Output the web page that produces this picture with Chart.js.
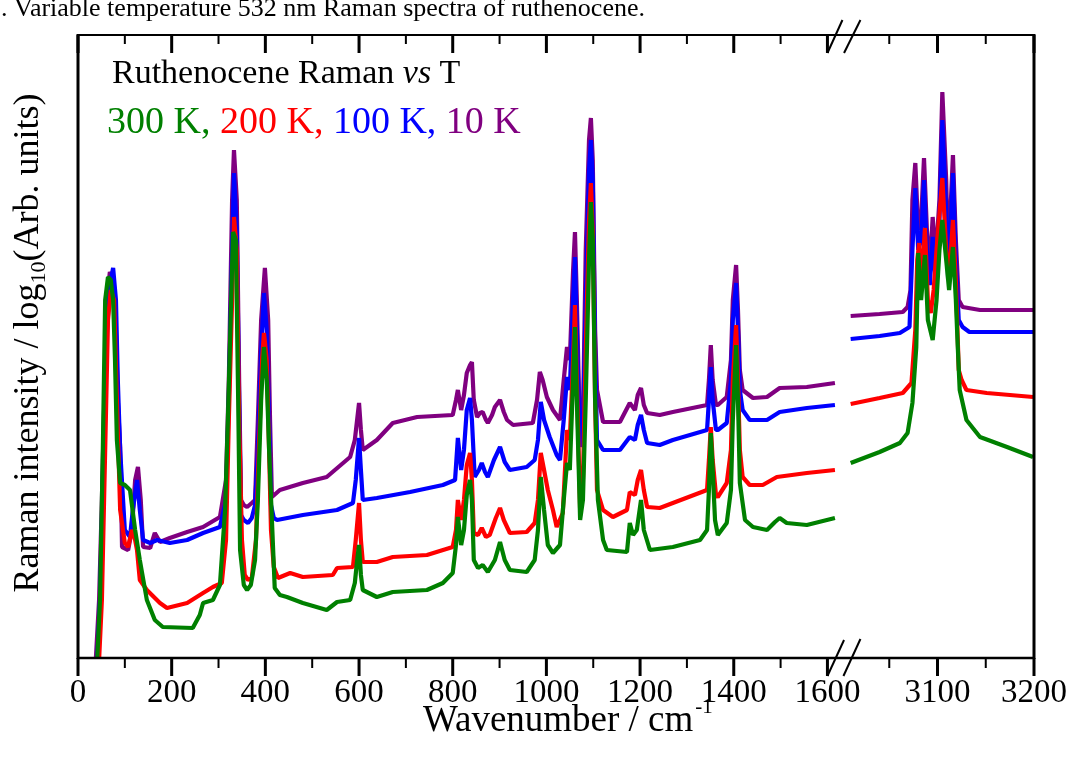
<!DOCTYPE html>
<html>
<head>
<meta charset="utf-8">
<title>Ruthenocene Raman vs T</title>
<script src="https://cdn.jsdelivr.net/npm/chart.js@4.4.1/dist/chart.umd.min.js"></script>
<style>
  html, body { margin: 0; padding: 0; background: #fff; }
  #wrap { position: relative; width: 1072px; height: 761px; }
</style>
</head>
<body>
<div id="wrap"><canvas id="ramanChart" width="1072" height="761"></canvas></div>
<script>
// wavenumber (cm-1) and log10 intensity (arb. units)
const wn300 = [41,47,53,58,64,70,75,79,83,90,
  100,111,122,132,147,164,181,245,260,267,
  288,303,314,320,327,331,337,342,346,354,
  361,369,378,384,391,397,403,408,414,420,
  431,446,480,531,553,581,591,596,600,604,
  608,638,672,745,779,800,807,811,818,824,
  830,837,841,845,854,864,875,890,901,911,
  922,958,975,982,988,995,1003,1014,1029,1037,
  1044,1050,1057,1061,1065,1072,1078,1084,1091,1095,
  1099,1104,1110,1121,1129,1172,1178,1185,1193,1202,
  1208,1221,1270,1328,1343,1347,1351,1355,1360,1366,
  1385,1394,1398,1405,1409,1413,1424,1441,1471,1488,
  1498,1513,1556,1616,
  3010,3040,3061,3069,3074,3078,3080,3083,3087,3090,
  3095,3099,3102,3105,3109,3112,3116,3119,3121,3123,
  3130,3144,3172,3199];
const int300 = [-0.02,0.58,2.08,3.58,3.81,3.78,3.58,2.98,2.18,1.75,
  1.73,1.68,1.28,0.98,0.58,0.38,0.31,0.30,0.43,0.55,
  0.58,0.73,1.48,2.38,3.58,4.26,4.18,2.58,1.08,0.73,
  0.68,0.73,0.98,1.58,2.58,3.11,2.78,2.08,1.38,0.70,
  0.63,0.61,0.55,0.48,0.56,0.58,0.75,0.98,1.13,0.83,
  0.68,0.61,0.66,0.68,0.75,0.85,1.13,1.41,1.13,1.28,
  1.63,1.78,1.58,0.98,0.90,0.93,0.86,0.98,1.16,0.98,
  0.88,0.86,0.98,1.28,1.81,1.48,1.13,1.05,1.13,1.58,
  1.95,1.88,2.78,3.31,2.58,1.38,1.58,2.58,3.98,4.56,
  4.18,2.58,1.58,1.18,1.08,1.06,1.35,1.23,1.28,1.58,
  1.28,1.08,1.11,1.18,1.28,1.68,2.25,1.88,1.38,1.23,
  1.35,1.68,2.38,3.13,2.58,1.75,1.38,1.31,1.28,1.36,
  1.40,1.35,1.33,1.40,
  1.95,2.06,2.15,2.25,2.55,3.11,4.05,3.58,4.03,3.38,
  3.18,3.58,4.08,4.38,3.98,3.68,4.11,3.58,3.11,2.68,
  2.38,2.21,2.11,2.01];

const wn200 = [45,51,58,64,70,77,83,90,100,107,
  115,122,126,132,147,175,190,233,267,288,
  307,316,322,329,333,339,344,350,356,363,
  371,380,386,393,397,403,408,412,418,427,
  453,480,544,553,587,593,600,604,608,638,
  672,745,800,807,811,818,824,830,837,841,
  845,854,862,871,879,892,901,909,922,958,
  975,982,988,995,1003,1014,1022,1035,1044,1050,
  1057,1061,1065,1072,1078,1084,1091,1095,1099,1104,
  1108,1121,1142,1172,1178,1189,1195,1202,1208,1215,
  1242,1270,1343,1347,1351,1355,1362,1366,1385,1394,
  1398,1405,1409,1413,1419,1434,1462,1492,1556,1616,
  3010,3040,3064,3073,3077,3079,3081,3083,3087,3090,
  3093,3096,3099,3105,3109,3112,3116,3119,3122,3125,
  3130,3151,3199];
const int200 = [-0.02,0.58,2.08,3.38,3.68,3.58,2.58,1.48,1.15,1.11,
  1.28,1.18,1.08,0.78,0.68,0.55,0.50,0.55,0.65,0.71,
  0.75,1.18,2.38,3.58,4.41,4.08,2.38,1.18,0.83,0.78,
  0.80,1.18,2.08,2.98,3.25,2.98,2.08,1.28,0.91,0.80,
  0.85,0.81,0.83,0.90,0.91,1.18,1.55,1.18,0.96,0.96,
  1.01,1.03,1.11,1.28,1.58,1.38,1.58,1.93,2.05,1.78,
  1.25,1.23,1.30,1.21,1.23,1.40,1.50,1.38,1.25,1.26,
  1.35,1.58,2.05,1.88,1.68,1.48,1.31,1.45,2.28,2.18,
  2.98,3.53,2.78,1.48,1.78,3.08,4.38,4.75,4.28,2.58,
  1.68,1.48,1.41,1.48,1.66,1.63,1.78,1.88,1.68,1.51,
  1.50,1.55,1.68,1.98,2.31,1.98,1.63,1.61,1.75,2.08,
  2.78,3.33,2.78,2.08,1.81,1.73,1.73,1.81,1.85,1.88,
  2.54,2.60,2.65,2.75,3.28,3.98,4.15,3.68,4.30,3.58,
  3.45,3.68,4.08,4.80,4.08,3.78,4.38,3.78,2.88,2.78,
  2.68,2.65,2.61];

const wn100 = [41,47,53,62,68,75,81,85,90,100,
  111,117,126,132,139,154,169,196,233,267,
  303,316,322,329,333,339,344,348,354,363,
  371,378,384,391,397,403,408,412,418,425,
  480,553,587,593,600,604,608,638,709,779,
  805,811,818,824,830,837,841,847,856,862,
  869,875,888,901,911,922,958,975,982,988,
  995,1007,1022,1029,1037,1044,1050,1057,1061,1065,
  1072,1078,1084,1091,1095,1099,1104,1108,1121,1157,
  1178,1189,1195,1202,1208,1215,1242,1270,1343,1347,
  1351,1355,1362,1366,1385,1394,1398,1405,1409,1413,
  1419,1434,1471,1498,1556,1616,
  3010,3040,3061,3071,3074,3077,3080,3083,3086,3089,
  3092,3095,3098,3102,3105,3109,3111,3113,3116,3119,
  3122,3126,3133,3199];
const int100 = [-0.02,0.58,1.78,3.28,3.73,3.90,3.58,2.78,2.08,1.28,
  1.21,1.48,1.78,1.48,1.18,1.15,1.18,1.15,1.18,1.25,
  1.31,1.58,2.58,4.08,4.85,4.28,2.58,1.43,1.38,1.35,
  1.40,1.53,2.08,3.08,3.65,3.28,2.38,1.53,1.40,1.38,
  1.43,1.48,1.55,1.78,2.20,1.88,1.58,1.60,1.66,1.73,
  1.78,2.20,1.88,2.08,2.48,2.60,2.38,1.81,1.88,1.95,
  1.86,1.81,1.98,2.11,1.96,1.88,1.91,1.98,2.18,2.56,
  2.38,2.21,2.03,1.98,2.38,2.81,2.68,3.58,4.01,3.28,
  2.11,2.28,3.58,4.88,5.18,4.78,3.08,2.18,2.08,2.08,
  2.21,2.18,2.33,2.43,2.28,2.15,2.13,2.18,2.28,2.58,
  2.91,2.58,2.28,2.28,2.35,2.78,3.38,3.75,3.28,2.68,
  2.48,2.38,2.38,2.46,2.50,2.53,
  3.19,3.22,3.25,3.31,4.08,4.70,4.08,4.18,4.78,4.08,
  3.73,4.21,3.78,4.38,5.38,4.48,3.78,4.18,4.85,3.98,
  3.38,3.31,3.26,3.26];

const wn10 = [38,45,51,55,60,64,68,75,81,85,
  90,94,107,115,122,128,134,139,154,164,
  175,196,233,267,303,316,322,329,333,339,
  344,348,354,361,371,378,384,391,399,406,
  410,414,431,480,531,581,591,600,604,608,
  638,672,724,800,807,811,818,824,830,837,
  841,845,852,858,864,871,875,884,890,901,
  909,916,929,971,980,986,992,1001,1014,1029,
  1037,1044,1050,1057,1061,1065,1072,1078,1084,1091,
  1095,1099,1104,1108,1121,1157,1178,1189,1195,1202,
  1208,1215,1242,1270,1343,1347,1351,1355,1362,1366,
  1385,1394,1398,1405,1409,1413,1419,1441,1471,1498,
  1556,1616,
  3010,3040,3064,3069,3072,3074,3077,3080,3083,3086,
  3089,3092,3095,3098,3102,3105,3109,3111,3113,3116,
  3119,3122,3126,3144,3199];
const int10 = [-0.02,0.58,1.58,2.38,3.18,3.68,3.86,3.78,3.28,2.58,
  2.11,1.11,1.08,1.28,1.78,1.91,1.58,1.11,1.10,1.25,
  1.16,1.20,1.26,1.31,1.41,1.78,2.78,4.58,5.08,4.58,
  2.78,1.58,1.53,1.51,1.55,1.58,2.38,3.38,3.90,3.38,
  2.38,1.61,1.68,1.75,1.81,2.01,2.18,2.55,2.28,2.08,
  2.18,2.35,2.41,2.43,2.58,2.68,2.48,2.63,2.85,2.93,
  2.96,2.58,2.41,2.45,2.46,2.38,2.35,2.43,2.51,2.58,
  2.46,2.38,2.33,2.35,2.58,2.86,2.78,2.61,2.48,2.38,
  2.78,3.11,2.98,3.88,4.26,3.58,2.15,2.38,4.08,5.18,
  5.40,4.98,3.28,2.68,2.36,2.36,2.55,2.48,2.63,2.70,
  2.53,2.45,2.43,2.46,2.53,2.78,3.13,2.78,2.53,2.53,
  2.61,2.98,3.58,3.93,3.48,2.88,2.68,2.60,2.61,2.70,
  2.71,2.75,
  3.42,3.44,3.46,3.51,3.68,4.58,4.95,4.28,4.38,5.00,
  4.28,3.88,4.41,3.98,4.58,5.66,4.78,3.98,4.38,5.03,
  4.18,3.58,3.51,3.48,3.48];

// axis ticks
const lowTicks = [0,100,200,300,400,500,600,700,800,900,1000,1100,1200,1300,1400,1500,1600];
const highTicks = [3050,3100,3150,3200];
const tickLabels = [0,200,400,600,800,1000,1200,1400,1600,3100,3200];

const seriesNames = ['300 K', '200 K', '100 K', '10 K'];
const seriesColors = ['#008000', '#ff0000', '#0000ff', '#800080'];

// broken x axis: 0-1600 kept as is, 3000-3200 squeezed in after the break
const BREAK_END = 1620;
const HIGH_START = 3000;
const HIGH_OFFSET = 1629;
const HIGH_STRETCH = 2.06;
function axisPos(w) {
  return w <= BREAK_END ? w : HIGH_OFFSET + (w - HIGH_START) * HIGH_STRETCH;
}

function makePoints(wn, vals) {
  const pts = [];
  const n = Math.min(wn.length, vals.length);
  for (let i = 0; i < n; i++) {
    if (i > 0 && wn[i - 1] <= BREAK_END && wn[i] > BREAK_END) {
      pts.push({ x: BREAK_END + 2, y: null });
    }
    pts.push({ x: axisPos(wn[i]), y: vals[i] });
  }
  return pts;
}

const allWn = [wn300, wn200, wn100, wn10];
const allInt = [int300, int200, int100, int10];

const datasets = seriesNames.map((name, i) => ({
  label: name,
  data: makePoints(allWn[i], allInt[i]),
  borderColor: seriesColors[i],
  borderWidth: 4.2,
  borderJoinStyle: 'bevel',
  pointRadius: 0,
  tension: 0,
  spanGaps: false,
  fill: false
}));

const SERIF = '"Liberation Serif", "Times New Roman", serif';

function seg(ctx, x1, y1, x2, y2, w) {
  ctx.lineWidth = w;
  ctx.beginPath();
  ctx.moveTo(x1, y1);
  ctx.lineTo(x2, y2);
  ctx.stroke();
}

const frame = {
  id: 'frame',
  afterDraw(chart) {
    const ctx = chart.ctx;
    const a = chart.chartArea;
    const x = chart.scales.x;
    ctx.save();
    ctx.strokeStyle = '#000';
    ctx.fillStyle = '#000';
    ctx.lineCap = 'butt';

    // box
    seg(ctx, a.left - 1, a.top, a.right + 1, a.top, 2);
    seg(ctx, a.left - 1, a.bottom, a.right + 1, a.bottom, 2.4);
    seg(ctx, a.left, a.top - 1, a.left, a.bottom + 1, 3);
    seg(ctx, a.right, a.top - 1, a.right, a.bottom + 1, 3);

    // ticks: bottom outward, top inward
    const allTicks = lowTicks.concat(highTicks);
    allTicks.forEach(t => {
      const px = x.getPixelForValue(axisPos(t));
      const major = tickLabels.includes(t);
      seg(ctx, px, a.bottom, px, a.bottom + (major ? 18 : 10), major ? 3 : 2);
      seg(ctx, px, a.top, px, a.top + (major ? 18 : 9), major ? 3 : 2);
    });

    // axis break marks
    const bx = x.getPixelForValue(axisPos(1600));
    seg(ctx, bx, a.bottom + 18, bx + 16.6, a.bottom - 18, 2);
    seg(ctx, bx + 16, a.bottom + 18, bx + 33, a.bottom - 19, 2);
    seg(ctx, bx, a.top + 18, bx + 15, a.top - 15, 2);
    seg(ctx, bx + 16.6, a.top + 18, bx + 33, a.top - 15, 2);

    // tick labels
    ctx.font = '33px ' + SERIF;
    ctx.textAlign = 'center';
    ctx.textBaseline = 'alphabetic';
    tickLabels.forEach(t => {
      ctx.fillText(String(t), x.getPixelForValue(axisPos(t)), 702);
    });

    // x title
    ctx.textAlign = 'left';
    ctx.font = '37px ' + SERIF;
    const xt = 'Wavenumber / cm';
    ctx.fillText(xt, 423, 731);
    const xw = ctx.measureText(xt).width;
    ctx.font = '21px ' + SERIF;
    ctx.fillText('-1', 423 + xw + 2, 713);

    // y title (rotated)
    ctx.save();
    ctx.font = '36px ' + SERIF;
    const y1 = 'Raman intensity / log';
    const y2 = '(Arb. units)';
    const w1 = ctx.measureText(y1).width;
    const w2 = ctx.measureText(y2).width;
    ctx.font = '22px ' + SERIF;
    const ws = ctx.measureText('10').width;
    const total = w1 + ws + w2;
    ctx.translate(38, 343);
    ctx.rotate(-Math.PI / 2);
    let cx = -total / 2;
    ctx.font = '36px ' + SERIF;
    ctx.fillText(y1, cx, 0);
    cx += w1;
    ctx.font = '22px ' + SERIF;
    ctx.fillText('10', cx, 7);
    cx += ws;
    ctx.font = '36px ' + SERIF;
    ctx.fillText(y2, cx, 0);
    ctx.restore();

    // annotation
    ctx.font = '34px ' + SERIF;
    let ax = 112;
    ctx.fillStyle = '#000';
    ctx.fillText('Ruthenocene Raman ', ax, 83);
    ax += ctx.measureText('Ruthenocene Raman ').width;
    ctx.font = 'italic 34px ' + SERIF;
    ctx.fillText('vs', ax, 83);
    ax += ctx.measureText('vs').width;
    ctx.font = '34px ' + SERIF;
    ctx.fillText(' T', ax, 83);

    ctx.font = '38px ' + SERIF;
    let lx = 107;
    seriesNames.forEach((name, i) => {
      const txt = i < seriesNames.length - 1 ? name + ', ' : name;
      ctx.fillStyle = seriesColors[i];
      ctx.fillText(txt, lx, 133);
      lx += ctx.measureText(txt).width;
    });

    // caption, cut off at the top of the picture
    ctx.fillStyle = '#000';
    ctx.font = '26px ' + SERIF;
    ctx.fillText('. Variable temperature 532 nm Raman spectra of ruthenocene.', 1, 16);

    ctx.restore();
  }
};

new Chart(document.getElementById('ramanChart').getContext('2d'), {
  type: 'line',
  data: { datasets: datasets },
  options: {
    responsive: false,
    animation: false,
    devicePixelRatio: 1,
    layout: { padding: { left: 78, right: 38, top: 35, bottom: 103 } },
    scales: {
      x: { type: 'linear', min: 0, max: axisPos(3200), display: false },
      y: { type: 'linear', min: 0, max: 6.23, display: false }
    },
    plugins: {
      legend: { display: false },
      tooltip: { enabled: false }
    }
  },
  plugins: [frame]
});
</script>
</body>
</html>
